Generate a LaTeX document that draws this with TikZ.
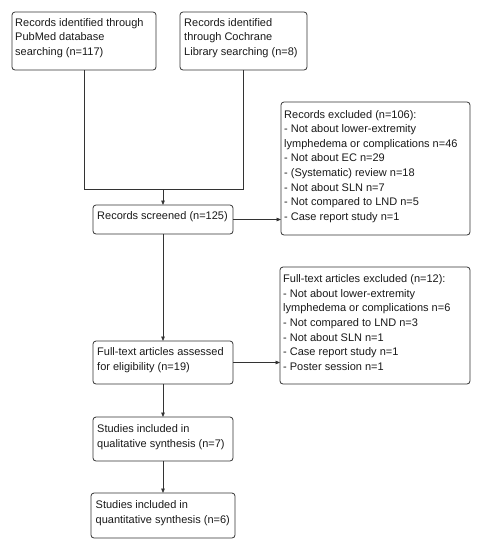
\documentclass[tikz,border=0pt]{standalone}
\usepackage{fontspec}
\setmainfont{Liberation Sans}
\usetikzlibrary{arrows.meta}
\begin{document}
\begin{tikzpicture}[x=1pt,y=-1pt,
  box/.style={draw=black!80, line width=0.8pt, rounded corners=3pt, inner sep=0pt, outer sep=0pt},
  txt/.style={anchor=north west, inner sep=0pt, align=left, text=black!90,
    font=\fontsize{11}{14.6}\selectfont},
  link/.style={draw=black!80, line width=0.8pt},
  arr/.style={link, -{Triangle[length=4.5pt,width=3.6pt]}}]
\useasboundingbox (0,0) rectangle (484,550);
% boxes
\node[box, minimum width=144pt, minimum height=58pt] (A) at (84,41) {};
\node[box, minimum width=127pt, minimum height=58pt] (B) at (243.5,41) {};
\node[box, minimum width=140pt, minimum height=29pt] (S) at (163,219.5) {};
\node[box, minimum width=189pt, minimum height=133pt] (RE) at (375.5,168.5) {};
\node[box, minimum width=140pt, minimum height=43pt] (FA) at (163,362.5) {};
\node[box, minimum width=190pt, minimum height=117pt] (FE) at (375,325.5) {};
\node[box, minimum width=140pt, minimum height=44pt] (Q1) at (163,439) {};
\node[box, minimum width=144pt, minimum height=45pt] (Q2) at (163,515.5) {};
% texts
\node[txt] (tA) at (15,18) {Records identified through\\PubMed database\\searching (n=117)};
\node[txt] (tB) at (184,18) {Records identified\\through Cochrane\\Library searching (n=8)};
\node[txt] (tS) at (97,211) {Records screened (n=125)};
\node[txt] (tRE) at (284,110) {Records excluded (n=106):\\- Not about lower-extremity\\lymphedema or complications n=46\\- Not about EC n=29\\- (Systematic) review n=18\\- Not about SLN n=7\\- Not compared to LND n=5\\- Case report study n=1};
\node[txt] (tFA) at (97,347.5) {Full-text articles assessed\\for eligibility (n=19)};
\node[txt] (tFE) at (283,274.5) {Full-text articles excluded (n=12):\\- Not about lower-extremity\\lymphedema or complications n=6\\- Not compared to LND n=3\\- Not about SLN n=1\\- Case report study n=1\\- Poster session n=1};
\node[txt] (tQ1) at (97,424.5) {Studies included in\\qualitative synthesis (n=7)};
\node[txt] (tQ2) at (95.5,500.5) {Studies included in\\quantitative synthesis (n=6)};
% connectors
\coordinate (J) at (163,189);
\draw[link] (A.south) |- (B.south |- J) -- (B.south);
\draw[arr] (J) -- (S.north);
\draw[arr] (S.east) -- (S.east -| RE.west);
\draw[arr] (S.south) -- (FA.north);
\draw[arr] (FA.east) -- (FA.east -| FE.west);
\draw[arr] (FA.south) -- (Q1.north);
\draw[arr] (Q1.south) -- (Q2.north);
\end{tikzpicture}
\end{document}
